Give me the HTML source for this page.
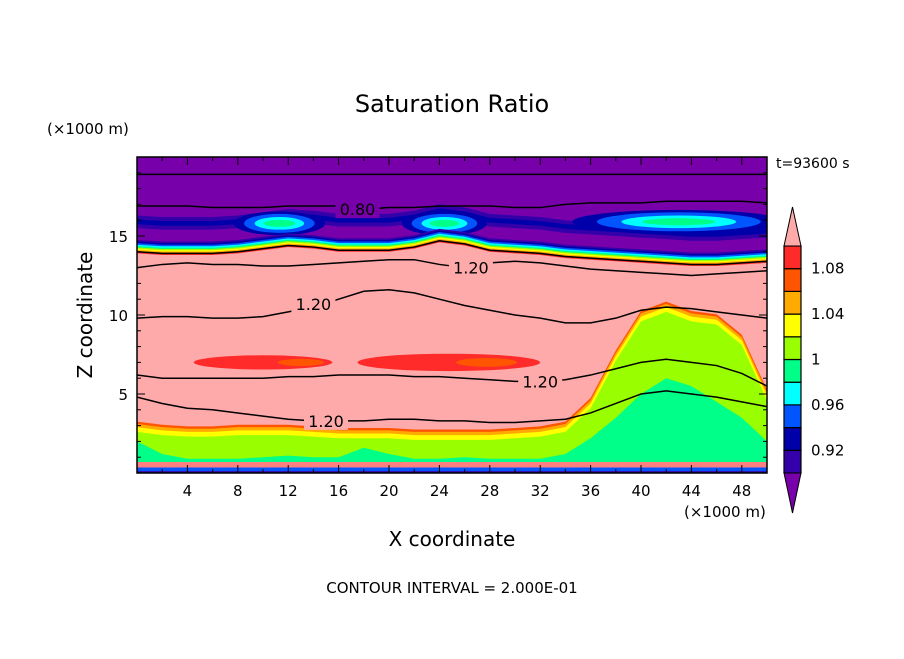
<!DOCTYPE html>
<html><head><meta charset="utf-8"><style>
body{margin:0;background:#fff}
svg text{font-family:"DejaVu Sans","Liberation Sans",sans-serif;fill:#000}
</style></head><body>
<svg width="904" height="654" viewBox="0 0 904 654">
<defs><clipPath id="pc"><rect x="137" y="157" width="630" height="316"/></clipPath></defs>
<g id="plot" clip-path="url(#pc)"></g>
<g id="lines" clip-path="url(#pc)"></g>
<rect x="137" y="157" width="630" height="316" fill="none" stroke="#000" stroke-width="1.5"/>
<g id="axes"></g>
<text x="452" y="112" font-size="24" text-anchor="middle">Saturation Ratio</text>
<text x="47" y="134" font-size="15">(×1000 m)</text>
<text x="776" y="168" font-size="14">t=93600 s</text>
<text x="684" y="517" font-size="15">(×1000 m)</text>
<text x="452" y="546" font-size="20" text-anchor="middle">X coordinate</text>
<text x="92" y="315" font-size="20" text-anchor="middle" transform="rotate(-90 92 315)">Z coordinate</text>
<text x="452" y="593" font-size="15" text-anchor="middle">CONTOUR INTERVAL = 2.000E-01</text>
<g id="cbar"></g>
</svg>
<script>
const xs=[0,2,4,6,8,10,12,14,16,18,20,22,24,26,28,30,32,34,36,38,40,42,44,46,48,50];
const pinkTop=[14.0,13.9,13.9,13.9,14.0,14.2,14.4,14.3,14.1,14.1,14.1,14.3,14.7,14.5,14.1,14.0,13.9,13.7,13.6,13.5,13.4,13.3,13.2,13.2,13.3,13.4];
const greenTop=[3.0,2.8,2.7,2.7,2.8,2.8,2.8,2.7,2.6,2.6,2.6,2.5,2.5,2.5,2.5,2.6,2.7,3.0,4.5,7.5,10.0,10.6,10.0,9.8,8.5,5.0];
const coreTop=[2.0,1.2,0.9,0.9,0.9,1.0,1.1,1.0,1.0,1.6,1.2,0.9,0.9,1.0,0.9,0.9,0.9,1.2,2.2,3.5,5.0,6.0,5.5,4.5,3.5,2.0];
const c080=[16.9,16.9,16.9,16.8,16.8,16.8,16.9,16.9,16.9,16.7,16.8,16.8,16.9,16.9,16.9,16.8,16.8,17.0,17.1,17.1,17.1,17.2,17.2,17.2,17.2,17.1];
const cTop=[18.9,18.9,18.9,18.9,18.9,18.9,18.9,18.9,18.9,18.9,18.9,18.9,18.9,18.9,18.9,18.9,18.9,18.9,18.9,18.9,18.9,18.9,18.9,18.9,18.9,18.9];
const c120a=[13.0,13.2,13.3,13.2,13.2,13.1,13.1,13.2,13.3,13.4,13.5,13.5,13.2,13.0,13.3,13.4,13.3,13.1,12.9,12.8,12.7,12.6,12.5,12.6,12.7,12.8];
const c120b=[9.8,9.9,9.9,9.8,9.8,9.9,10.2,10.5,11.0,11.5,11.6,11.4,11.0,10.6,10.3,10.0,9.8,9.5,9.5,9.8,10.3,10.5,10.4,10.2,10.0,9.8];
const c120c=[6.2,6.0,6.0,6.0,6.0,6.0,6.1,6.1,6.2,6.2,6.2,6.1,6.1,6.0,5.9,5.8,5.8,5.9,6.2,6.6,7.0,7.2,7.0,6.8,6.3,5.5];
const c120d=[4.8,4.4,4.1,4.0,3.8,3.6,3.4,3.3,3.3,3.3,3.4,3.4,3.3,3.3,3.2,3.2,3.3,3.4,3.8,4.4,5.0,5.2,5.0,4.8,4.5,4.2];
const redBlobs=[[4.5,15.5,7.0,0.45],[17.5,32,7.0,0.55]];
const cyanBlobs=[[11.3,2.8,15.8],[24.4,2.6,15.8],[43,6.5,15.9]];
const cbLabels=["0.92","0.96","1","1.04","1.08"];
const cbColors=["#3300aa","#0000aa","#0055ff","#00ffff","#00ff88","#99ff00","#ffff00","#ffaa00","#ff5500","#ff2a2a"];
const xTicks=[4,8,12,16,20,24,28,32,36,40,44,48];
const zTicks=[5,10,15];

const NS="http://www.w3.org/2000/svg";
const sx=x=>137+x*12.6, sz=z=>473-z*15.8;
function mk(p,t,a){const e=document.createElementNS(NS,t);for(const k in a)e.setAttribute(k,a[k]);p.appendChild(e);return e;}
const plot=document.getElementById('plot'),lines=document.getElementById('lines'),axes=document.getElementById('axes');
function band(lo,hi,fill,name){
  let d="M"+xs.map((x,i)=>sx(x)+","+sz(hi(i))).join("L");
  for(let i=xs.length-1;i>=0;i--)d+="L"+sx(xs[i])+","+sz(lo(i));
  const e=mk(plot,'path',{d:d+"Z",fill:fill});
  
  
}
let bg=mk(plot,'rect',{x:137,y:157,width:630,height:316,fill:"#7700aa"});


band(i=>pinkTop[i]+1.5,i=>pinkTop[i]+2.3,"#3300aa","upper-band-dark");
band(i=>pinkTop[i]+1.75,i=>pinkTop[i]+2.05,"#0000aa","upper-band-blue");
cyanBlobs.forEach(b=>{
  [["#0000aa",1.3,0.75],["#0055ff",1,0.6],["#00ffff",0.7,0.4],["#00ff88",0.45,0.22]].forEach(c=>{
    const e=mk(plot,'ellipse',{cx:sx(b[0]),cy:sz(b[2]),rx:b[1]*12.6*c[1],ry:c[2]*15.8,fill:c[0]});
    
    
  });
});
const offs=[[0.75,"#3300aa"],[0.65,"#0000aa"],[0.55,"#0055ff"],[0.45,"#00ffff"],[0.36,"#00ff88"],[0.28,"#99ff00"],[0.2,"#ffff00"],[0.12,"#ffaa00"],[0.05,"#ff5500"],[0.0,"#ff2a2a"]];
offs.forEach(o=>band(i=>-1,i=>pinkTop[i]+o[0],o[1],"gradient-band"));
band(i=>-1,i=>pinkTop[i]-0.1,"#ffaaaa","supersaturated-region");
redBlobs.forEach(b=>{
  const e=mk(plot,'ellipse',{cx:sx((b[0]+b[1])/2),cy:sz(b[2]),rx:(b[1]-b[0])/2*12.6,ry:b[3]*15.8,fill:"#ff2a2a"});
  
  
  const f=mk(plot,'ellipse',{cx:sx((b[0]+b[1])/2+3),cy:sz(b[2]),rx:(b[1]-b[0])/6*12.6,ry:b[3]*8,fill:"#ff5500"});
  
  
});
band(i=>-1,i=>greenTop[i]+0.25,"#ff5500","cloud-edge-red");
band(i=>-1,i=>greenTop[i]+0.1,"#ffaa00","cloud-edge-orange");
band(i=>-1,i=>greenTop[i]-0.1,"#ffff00","cloud-edge-yellow");
band(i=>-1,i=>greenTop[i]-0.4,"#99ff00","cloud-region");
band(i=>0.5,i=>coreTop[i],"#00ff88","cloud-core");
band(i=>0.3,i=>0.7,"#ff8080","surface-pink");
band(i=>0.1,i=>0.35,"#0055ff","surface-blue");
band(i=>-1,i=>0.12,"#3300aa","surface-purple");
function cline(arr,name){
  const e=mk(lines,'polyline',{points:xs.map((x,i)=>sx(x)+","+sz(arr[i])).join(" "),fill:"none",stroke:"#000","stroke-width":1.5});
  
  
}
cline(cTop,"contour-top");cline(c080,"contour-0.80");cline(pinkTop,"contour-1.00");
cline(c120a,"contour-1.20-a");cline(c120b,"contour-1.20-b");cline(c120c,"contour-1.20-c");cline(c120d,"contour-1.20-d");
function clabel(x,z,t){
  const r=mk(lines,'rect',{x:sx(x)-22,y:sz(z)-9,width:44,height:18,fill:"#7700aa"});
  
  
  const e=mk(lines,'text',{x:sx(x),y:sz(z)+6,"font-size":16,"text-anchor":"middle"});
  e.textContent=t;
  
  
  return r;
}
clabel(17.5,c080[9],"0.80");
clabel(26.5,c120a[13],"1.20").setAttribute('fill','#ffaaaa');
clabel(14,c120b[7]+0.2,"1.20").setAttribute('fill','#ffaaaa');
clabel(32,c120c[16],"1.20").setAttribute('fill','#ffaaaa');
clabel(15,c120d[7],"1.20").setAttribute('fill','#ffaaaa');
for(let x=2;x<50;x+=2){
  const big=x%4===0;
  mk(axes,'line',{x1:sx(x),x2:sx(x),y1:473,y2:473-(big?8:4),stroke:"#000"});
  mk(axes,'line',{x1:sx(x),x2:sx(x),y1:157,y2:157+(big?8:4),stroke:"#000"});
}
xTicks.forEach(x=>{const t=mk(axes,'text',{x:sx(x),y:496,"font-size":15,"text-anchor":"middle"});t.textContent=x;
  });
for(let z=1;z<20;z++){
  const big=z%5===0;
  mk(axes,'line',{x1:137,x2:137+(big?8:4),y1:sz(z),y2:sz(z),stroke:"#000"});
  mk(axes,'line',{x1:767,x2:767-(big?8:4),y1:sz(z),y2:sz(z),stroke:"#000"});
}
zTicks.forEach(z=>{const t=mk(axes,'text',{x:128,y:sz(z)+6,"font-size":15,"text-anchor":"end"});t.textContent=z;
  });
const cb=document.getElementById('cbar');const bh=22.7;
cbColors.forEach((c,i)=>{const r=mk(cb,'rect',{x:784,y:473-(i+1)*bh,width:17,height:bh,fill:c,stroke:"#000","stroke-width":1.2});
  });
let tp=mk(cb,'polygon',{points:"784,246 801,246 792.5,207",fill:"#ffaaaa",stroke:"#000"});

let bt=mk(cb,'polygon',{points:"784,473 801,473 792.5,513",fill:"#7700aa",stroke:"#000"});

cbLabels.forEach((l,i)=>{const t=mk(cb,'text',{x:811,y:473-(i*2+1)*bh+5,"font-size":15});t.textContent=l;
  });
</script>
</body></html>
